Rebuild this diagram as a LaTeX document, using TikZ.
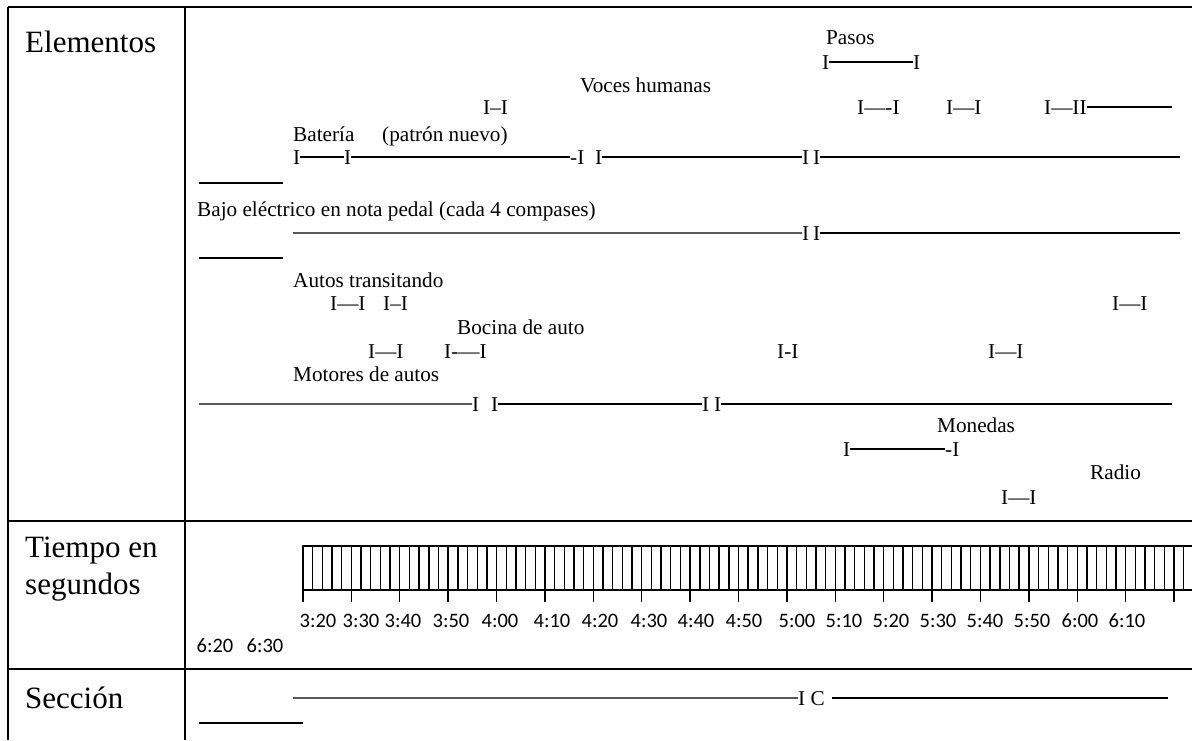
\documentclass[tikz,border=0pt]{standalone}
\usepackage{fontspec}
\setmainfont{Liberation Serif}
\newfontfamily\tnr{Liberation Serif}
\newfontfamily\calfont{Carlito}
\begin{document}
\begin{tikzpicture}[x=1pt,y=-1pt,
  txt/.style={anchor=base west,inner sep=0pt,font=\tnr\fontsize{21.2}{25}\selectfont},
  hdr/.style={anchor=base west,inner sep=0pt,font=\tnr\fontsize{31}{37}\selectfont},
  tck/.style={anchor=base,inner sep=0pt,font=\calfont\fontsize{20.5}{24}\selectfont},
  ln/.style={line width=1.3pt},
  grid/.style={line width=1.4pt},
  rail/.style={line width=1.4pt},
  minorbar/.style={line width=1.4pt},
]
\useasboundingbox (0,0) rectangle (1192,740);
% table rules
\draw[line width=2.4pt] (8,7) -- (1192,7);
\draw[grid] (8,7) -- (8,740);
\draw[grid] (185,7) -- (185,740);
\draw[grid] (8,521) -- (1192,521);
\draw[grid] (8,669) -- (1192,669);
% headers
\node[hdr] (hElem) at (25,52) {Elementos};
\node[hdr] (hTiempo) at (25,557) {Tiempo en};
\node[hdr] (hSeg) at (25,594) {segundos};
\node[hdr] (hSec) at (25,708) {Sección};
% Pasos
\node[txt] (pasos) at (826,44) {Pasos};
\node[txt] (p1) at (822,69) {I};
\node[txt] (p2) at (913,69) {I};
\draw[ln] (p1.east) -- (p2.west);
% Voces humanas
\node[txt] (voces) at (580,92) {Voces humanas};
\node[txt] (v1) at (483,114) {I–I};
\node[txt] (v2) at (857,114) {I—-I};
\node[txt] (v3) at (946,114) {I—I};
\node[txt] (v4) at (1044,114) {I—II};
\coordinate (v4e) at (1172,107);
\draw[ln] (v4.east) -- (v4.east -| v4e);
% Bateria
\node[txt] (bat) at (293,141) {Batería};
\node[txt] (patron) at (382,141) {(patrón nuevo)};
\node[txt] (b1) at (293,164) {I};
\node[txt] (b2) at (344,164) {I};
\node[txt] (b3) at (570,164) {-I};
\node[txt] (b4) at (595,164) {I};
\node[txt] (b5) at (802,164) {I};
\node[txt] (b6) at (813,164) {I};
\coordinate (bend) at (1180,157);
\draw[ln] (b1.east) -- (b2.west);
\draw[ln] (b2.east) -- (b3.west);
\draw[ln] (b4.east) -- (b5.west);
\draw[ln] (b6.east) -- (b6.east -| bend);
\coordinate (s1a) at (199,183);
\coordinate (s1b) at (283,183);
\draw[ln] (s1a) -- (s1b);
% Bajo
\node[txt] (bajo) at (197,216) {Bajo eléctrico en nota pedal (cada 4 compases)};
\coordinate (j0) at (293,233);
\node[txt] (j1) at (802,240) {I};
\node[txt] (j2) at (813,240) {I};
\coordinate (jend) at (1180,233);
\draw[ln] (j0) -- (j1.west);
\draw[ln] (j2.east) -- (j2.east -| jend);
\coordinate (s2a) at (199,258);
\coordinate (s2b) at (283,258);
\draw[ln] (s2a) -- (s2b);
% Autos
\node[txt] (autos) at (293,287) {Autos transitando};
\node[txt] (a1) at (330,310) {I—I};
\node[txt] (a2) at (383,310) {I–I};
\node[txt] (a3) at (1112,310) {I—I};
% Bocina
\node[txt] (bocina) at (457,334) {Bocina de auto};
\node[txt] (c1) at (368,358) {I—I};
\node[txt] (c2) at (444,358) {I-—I};
\node[txt] (c3) at (777,358) {I-I};
\node[txt] (c4) at (988,358) {I—I};
% Motores
\node[txt] (motores) at (293,381) {Motores de autos};
\coordinate (m0) at (199,404);
\node[txt] (m1) at (472,411) {I};
\node[txt] (m2) at (491,411) {I};
\node[txt] (m3) at (702,411) {I};
\node[txt] (m4) at (714,411) {I};
\coordinate (mend) at (1172,404);
\draw[ln] (m0) -- (m1.west);
\draw[ln] (m2.east) -- (m3.west);
\draw[ln] (m4.east) -- (m4.east -| mend);
% Monedas
\node[txt] (monedas) at (937,432) {Monedas};
\node[txt] (n1) at (843,456) {I};
\node[txt] (n2) at (945,456) {-I};
\draw[ln] (n1.east) -- (n2.west);
% Radio
\node[txt] (radio) at (1090,479) {Radio};
\node[txt] (r1) at (1001,504) {I—I};
% ruler
\draw[rail] (302,546) -- (1192,546);
\draw[rail] (302,590) -- (1192,590);
\foreach \k in {0,...,92} { \draw[minorbar] ({303+9.678*\k},546) -- ++(0,44); }
\foreach \k in {0,...,18} { \draw[minorbar] ({303+48.39*\k},546) -- ++(0,56); }
\foreach \c/\t [count=\i] in {318/3:20,361/3:30,403/3:40,451/3:50,500/4:00,552/4:10,600/4:20,649/4:30,696/4:40,744/4:50,797/5:00,844/5:10,891/5:20,938/5:30,985/5:40,1032/5:50,1080/6:00,1127/6:10}
  { \node[tck] (t\i) at (\c,627) {\t}; }
\node[tck] (t620) at (215,652) {6:20};
\node[tck] (t630) at (265,652) {6:30};
% Seccion
\coordinate (sc0) at (293,698);
\node[txt] (ic) at (798,705) {I C};
\coordinate (sc1) at (1168,698);
\draw[ln] (sc0) -- (ic.west);
\draw[ln] ([xshift=7pt]ic.east) -- (ic.east -| sc1);
\coordinate (s3a) at (199,723);
\coordinate (s3b) at (303,723);
\draw[ln] (s3a) -- (s3b);
\end{tikzpicture}
\end{document}
